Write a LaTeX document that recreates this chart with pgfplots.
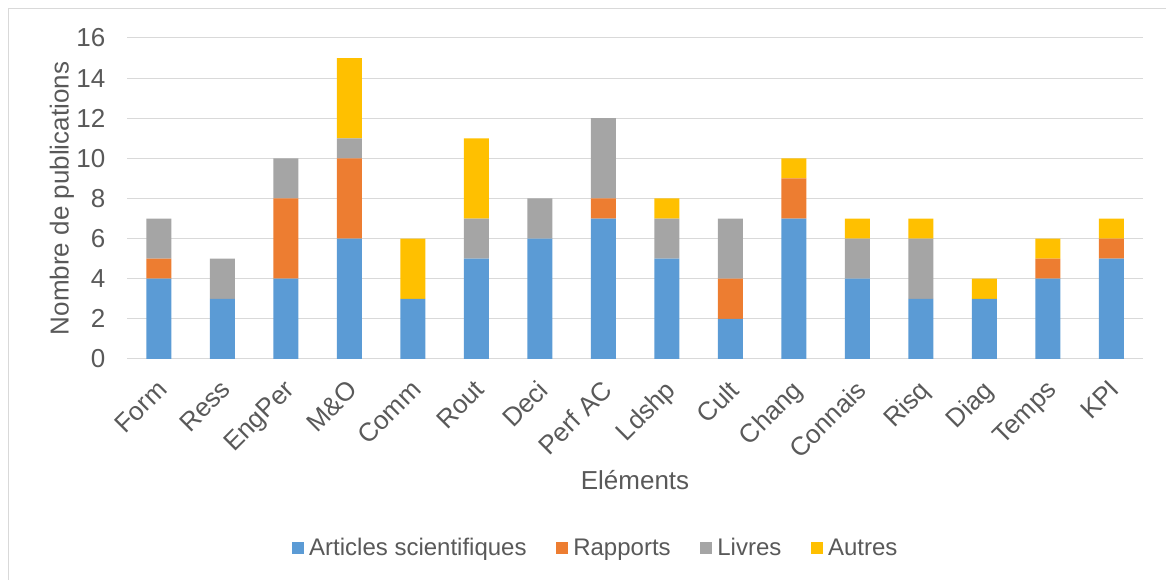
\documentclass[border=0pt]{standalone}
\usepackage{fontspec}
\setmainfont{Liberation Sans}
\usepackage{pgfplots}
\pgfplotsset{compat=1.18}
\definecolor{cA}{HTML}{5B9BD5}
\definecolor{cR}{HTML}{ED7D31}
\definecolor{cL}{HTML}{A5A5A5}
\definecolor{cO}{HTML}{FFC000}
\definecolor{txt}{HTML}{595959}
\definecolor{grd}{HTML}{D9D9D9}
\begin{document}
\begin{tikzpicture}
\useasboundingbox (0,0) rectangle (874.5pt,435pt);
\draw[grd, line width=0.75pt] (6pt,-5pt) -- (6pt,428.25pt) -- (880pt,428.25pt);
\begin{axis}[
  at={(95.25pt,165.75pt)}, anchor=south west,
  scale only axis, width=762pt, height=240.75pt,
  ybar stacked, bar width=18.75pt,
  xmin=-0.5, xmax=15.5, ymin=0, ymax=16,
  ytick={0,2,...,16},
  xtick={0,...,15},
  xticklabels={Form,Ress,EngPer,M\&O,Comm,Rout,Deci,Perf AC,Ldshp,Cult,Chang,Connais,Risq,Diag,Temps,KPI},
  major tick length=0pt,
  axis line style={draw=none},
  ymajorgrids, grid style={grd, line width=0.75pt},
  font=\fontsize{19.5}{23}\selectfont,
  every tick label/.append style={text=txt},
  /pgf/number format/assume math mode=true,
  yticklabel style={anchor=east, inner sep=0pt, xshift=-16pt},
  xticklabel style={xshift=-2.25pt, yshift=-14.5pt, rotate=45, anchor=north east, inner sep=0pt},
  xlabel={Eléments}, ylabel={Nombre de publications},
  label style={text=txt},
  xlabel style={at={(axis description cs:0.5,-0.377)}, anchor=center},
  ylabel style={at={(axis description cs:-0.064,0.5)}, anchor=center},
  legend columns=4,
  legend style={at={(axis description cs:0.4616,-0.589)}, anchor=center, draw=none, text=txt,
    font=\fontsize{18}{21}\selectfont, inner sep=0pt,
    /tikz/every even column/.append style={column sep=20pt}},
  legend image code/.code={\fill[#1] (0pt,-4.5pt) rectangle (9pt,4.5pt); \path (11pt,0pt);},
]
\addplot[fill=cA, draw=none] coordinates {(0,4)(1,3)(2,4)(3,6)(4,3)(5,5)(6,6)(7,7)(8,5)(9,2)(10,7)(11,4)(12,3)(13,3)(14,4)(15,5)};
\addplot[fill=cR, draw=none] coordinates {(0,1)(1,0)(2,4)(3,4)(4,0)(5,0)(6,0)(7,1)(8,0)(9,2)(10,2)(11,0)(12,0)(13,0)(14,1)(15,1)};
\addplot[fill=cL, draw=none] coordinates {(0,2)(1,2)(2,2)(3,1)(4,0)(5,2)(6,2)(7,4)(8,2)(9,3)(10,0)(11,2)(12,3)(13,0)(14,0)(15,0)};
\addplot[fill=cO, draw=none] coordinates {(0,0)(1,0)(2,0)(3,4)(4,3)(5,4)(6,0)(7,0)(8,1)(9,0)(10,1)(11,1)(12,1)(13,1)(14,1)(15,1)};
\legend{Articles scientifiques, Rapports, Livres, Autres}
\end{axis}
\end{tikzpicture}
\end{document}
